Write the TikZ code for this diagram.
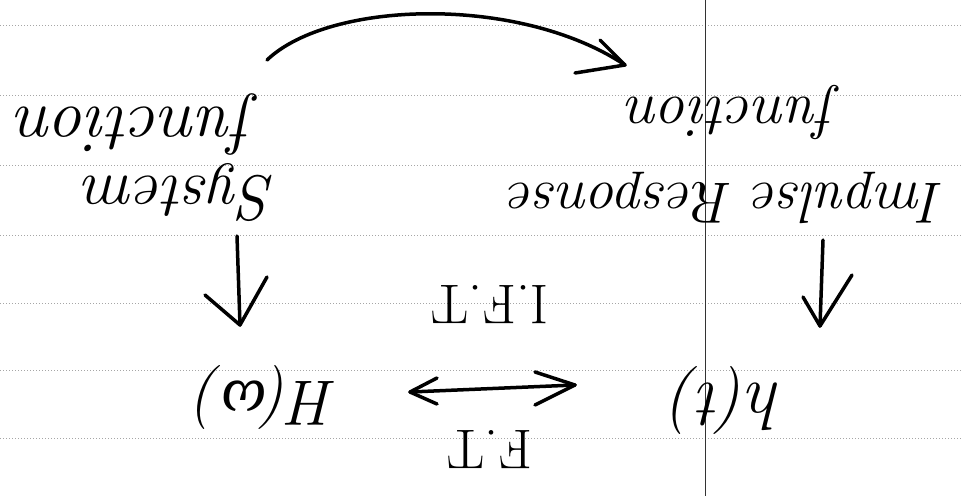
\documentclass[tikz,border=0pt]{standalone}
\usepackage{fontspec}
\newfontfamily\grk{Liberation Serif}
\usetikzlibrary{arrows.meta}
\begin{document}
\begin{tikzpicture}[x=1pt,y=-1pt,
  hand/.style={rotate=180, inner sep=0pt, font=\itshape\fontsize{64}{70}\selectfont},
  ink/.style={line width=3.5pt, line cap=round, line join=round, black},
  rule/.style={gray!70, dotted, line width=1pt},
  margin/.style={black!80, line width=1pt}]
\useasboundingbox (0,0) rectangle (961,496);
% ruled paper
\foreach \yy in {25,95,165,235,303,370,438}
  \draw[rule] (0,\yy) -- (961,\yy);
\draw[margin] (705,0) -- (705,496);
% texts (upside down)
\node[hand, font=\itshape\fontsize{68}{70}\selectfont] (fun1) at (136,124) {function};
\node[hand] (sys) at (180,192) {System};
\node[hand, font=\itshape\fontsize{60}{70}\selectfont] (fun2) at (732,112) {function};
\node[hand, font=\itshape\fontsize{58}{60}\selectfont] (imp) at (727,198) {Impulse Response};
\node[hand] (hw) at (267,397) {H({\grk\itshape ω})};
\node[hand, font=\itshape\fontsize{68}{70}\selectfont] (ht) at (727,400) {h(t)};
\node[hand, font=\fontsize{56}{60}\selectfont] (ift) at (490,305) {I.F.T};
\node[hand, font=\fontsize{56}{60}\selectfont] (ft) at (490,450) {F.T};
% left vertical arrow
\coordinate (a1s) at (237,236);
\coordinate (a1e) at (240,325);
\draw[ink] (a1s) -- (a1e);
\draw[ink] (205,295) -- (a1e) -- (267,277);
% right vertical arrow
\coordinate (a2s) at (823,240);
\coordinate (a2e) at (820,326);
\draw[ink] (a2s) -- (a2e);
\draw[ink] (803,297) -- (a2e) -- (852,275);
% double arrow F.T / I.F.T
\coordinate (dL) at (410,392);
\coordinate (dR) at (575,385);
\draw[ink] (dL) -- (dR);
\draw[ink] (437,378) -- (dL) -- (437,404);
\draw[ink] (535,372) -- (dR) -- (535,405);
% curved arrow on top
\coordinate (cS) at (267,60);
\coordinate (cE) at (625,65);
\draw[ink] (cS) .. controls (330,0) and (520,-5) .. (cE);
\draw[ink] (600,40) -- (cE) -- (575,73);
\end{tikzpicture}
\end{document}
